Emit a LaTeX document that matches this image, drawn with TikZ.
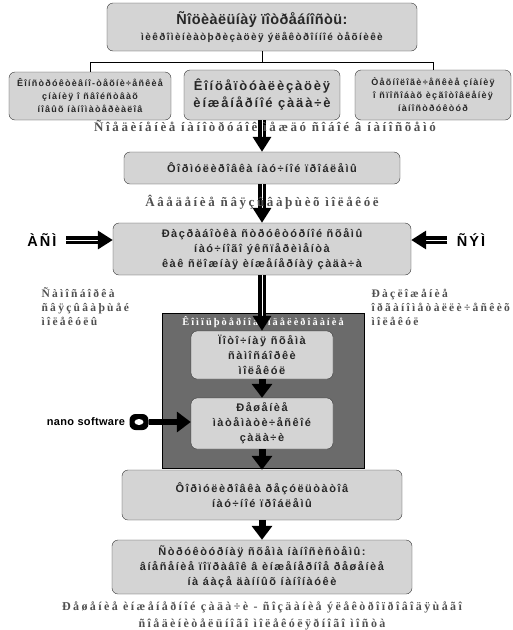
\documentclass[tikz,border=0pt]{standalone}
\usepackage{fontspec}
\usetikzlibrary{arrows.meta,positioning}
\newfontfamily\boxfont[LetterSpace=14]{Liberation Sans}
\newfontfamily\headfont[LetterSpace=3]{Liberation Sans}
\newfontfamily\labfont[LetterSpace=20]{Liberation Serif}
\definecolor{boxgray}{HTML}{D4D4D4}
\definecolor{modgray}{HTML}{6B6B6B}
\definecolor{labgray}{HTML}{505050}

\begin{document}
\begin{tikzpicture}[x=1pt,y=-1pt,
    box/.style={draw=black!80, fill=boxgray, rounded corners=6pt, align=center,
      text=black!85, inner sep=2pt, font=\boxfont\bfseries\fontsize{11}{15}\selectfont},
    lab/.style={text=labgray, font=\labfont\bfseries\fontsize{13}{14}\selectfont},
    fat/.style={draw=black, line width=3.4pt, double=white, double distance=1pt,
      -{Triangle[width=18pt,length=15pt]}},
    heavy/.style={draw=black, line width=7pt, -{Triangle[width=20pt,length=14pt]}}]
    \useasboundingbox (0,0) rectangle (513,630);

    % Top of the scheme
    \node[box, minimum width=310pt, minimum height=48pt] (need) at (262,27)
      {{\headfont\bfseries\fontsize{14.5}{17}\selectfont Ñîöèàëüíàÿ ïîòðåáíîñòü:}\\[1pt]
       \fontsize{10}{12}\selectfont ìèêðîìèíèàòþðèçàöèÿ ýëåêòðîííîé òåõíèêè};
    \node[box, minimum width=162pt, minimum height=48pt, font=\boxfont\bfseries\fontsize{9}{13}\selectfont] (know) at (90,96)
      {Êîíñòðóêòèâíî-òåõíè÷åñêèå\\çíàíèÿ î ñâîéñòâàõ\\íîâûõ íàíîìàòåðèàëîâ};
    \node[box, minimum width=156pt, minimum height=50pt, font=\boxfont\bfseries\fontsize{13}{17}\selectfont] (concept) at (262,95)
      {Êîíöåïòóàëèçàöèÿ\\èíæåíåðíîé çàäà÷è};
    \node[box, minimum width=156pt, minimum height=50pt, font=\boxfont\bfseries\fontsize{9}{13}\selectfont] (tech) at (433,95)
      {Òåõíîëîãè÷åñêèå çíàíèÿ\\î ñïîñîáàõ èçãîòîâëåíèÿ\\íàíîñòðóêòóð};

    \coordinate (split) at (262,62);
    \draw[line width=0.8pt] (need.south) -- (split);
    \draw[line width=0.8pt] (know.north) -- (know.north |- split) -- (tech.north |- split) -- (tech.north);

    % Problem and experiment
    \node[box, minimum width=276pt, minimum height=32pt] (problem) at (262,168)
      {Ôîðìóëèðîâêà íàó÷íîé ïðîáëåìû};
    \node[box, minimum width=298pt, minimum height=52pt] (scheme) at (262,249)
      {Ðàçðàáîòêà ñòðóêòóðíîé ñõåìû\\íàó÷íîãî ýêñïåðèìåíòà\\êàê ñëîæíàÿ èíæåíåðíàÿ çàäà÷à};
    \draw[fat] (concept.south) -- (problem.north);
    \node[lab] (joint) at (265,126) {Ñîåäèíåíèå íàíîòðóáîê ìåæäó ñîáîé â íàíîñõåìó};
    \draw[fat] (problem.south) -- (scheme.north);
    \node[lab] (bind) at (262,202) {Ââåäåíèå ñâÿçûâàþùèõ ìîëåêóë};

    \node[font=\boxfont\bfseries\fontsize{14.5}{16}\selectfont] (afm) at (42,240) {ÀÑÌ};
    \node[font=\boxfont\bfseries\fontsize{14.5}{16}\selectfont] (sem) at (471,240) {ÑÝÌ};
    \draw[fat, shorten <=6pt] (afm.east) -- (afm -| scheme.west);
    \draw[fat, shorten <=6pt] (sem.west) -- (sem -| scheme.east);

    \node[lab, anchor=west, align=left, font=\labfont\bfseries\fontsize{11.5}{14}\selectfont] (selfasm) at (38,307)
      {Ñàìîñáîðêà\\ñâÿçûâàþùåé\\ìîëåêóëû};
    \node[lab, anchor=west, align=left, font=\labfont\bfseries\fontsize{11.5}{14}\selectfont] (decomp) at (368,307)
      {Ðàçëîæåíèå\\îðãàíîìåòàëëè÷åñêèõ\\ìîëåêóë};

    % Computer modelling
    \node[draw=black, fill=modgray, minimum width=202pt, minimum height=155pt] (model) at (263,390.5) {};
    \node[lab, text=white, font=\labfont\bfseries\fontsize{10.3}{12}\selectfont] (modtitle) at (263,322)
      {Êîìïüþòåðíîå ìîäåëèðîâàíèå};
    \node[box, minimum width=142pt, minimum height=48pt] (flow) at (262,355)
      {Ïîòî÷íàÿ ñõåìà\\ñàìîñáîðêè\\ìîëåêóë};
    \node[box, minimum width=142pt, minimum height=51pt] (solve) at (262,423.5)
      {Ðåøåíèå\\ìàòåìàòè÷åñêîé\\çàäà÷è};
    \draw[fat] (scheme.south) -- (flow.north);
    \draw[heavy] (flow.south) -- (solve.north);

    \node[font=\headfont\bfseries\fontsize{11}{13}\selectfont] (soft) at (86,422) {nano software};
    \node[fill=black, rounded corners=6pt, minimum width=19pt, minimum height=16pt, inner sep=0pt] (plug) at (139,422) {};
    \fill[white] (plug.center) ellipse (4.5pt and 3pt);
    \draw[heavy, line width=6pt] (plug.east) -- (plug -| solve.west);

    % Results
    \node[box, minimum width=280pt, minimum height=50pt] (result) at (262,495)
      {Ôîðìóëèðîâêà ðåçóëüòàòîâ\\íàó÷íîé ïðîáëåìû};
    \node[box, minimum width=300pt, minimum height=54pt] (struct) at (262,567)
      {Ñòðóêòóðíàÿ ñõåìà íàíîñèñòåìû:\\âíåñåíèå ïîïðàâîê â èíæåíåðíîå ðåøåíèå\\íà áàçå äàííûõ íàíîíàóêè};
    \draw[heavy] (solve.south) -- (result.north);
    \draw[heavy] (result.south) -- (struct.north);

    \node[lab, align=center, font=\labfont\bfseries\fontsize{12}{17}\selectfont] (goal) at (262,616)
      {Ðåøåíèå èíæåíåðíîé çàäà÷è - ñîçäàíèå ýëåêòðîïðîâîäÿùåãî\\ñîåäèíèòåëüíîãî ìîëåêóëÿðíîãî ìîñòà};
\end{tikzpicture}
\end{document}
